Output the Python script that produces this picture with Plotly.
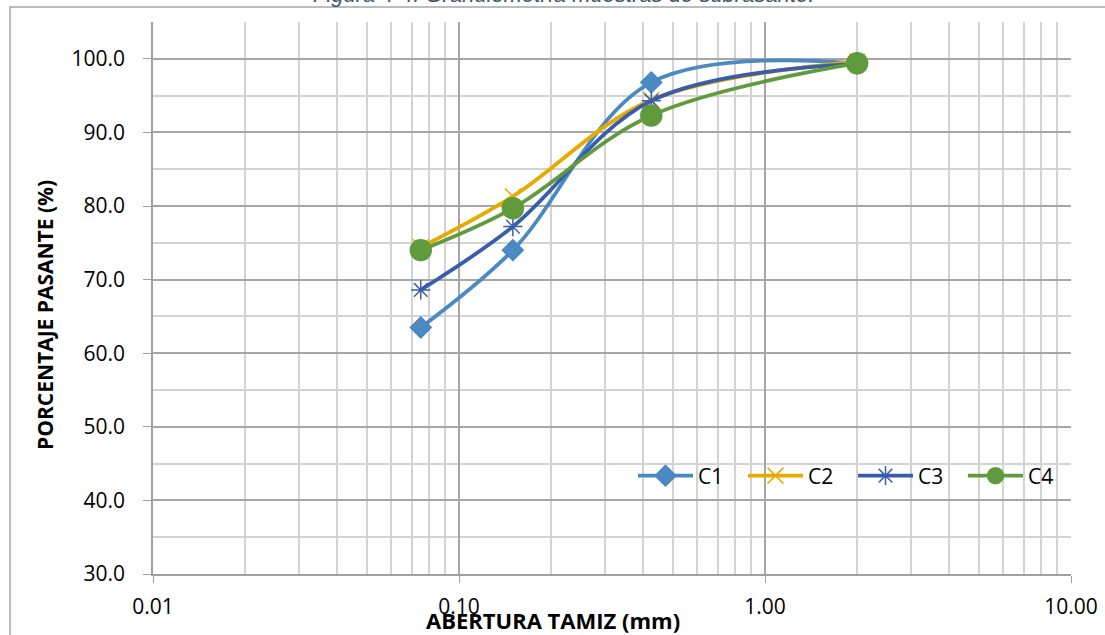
import plotly.graph_objects as go

# --- data ---
aberturas = [0.075, 0.15, 0.425, 2.0]
c1 = [63.5, 74.0, 96.8, 99.4]
c2 = [74.4, 81.3, 94.4, 99.6]
c3 = [68.6, 77.2, 94.3, 99.3]
c4 = [74.0, 79.7, 92.3, 99.4]
series_names = ["C1", "C2", "C3", "C4"]
x_tickvals = [0.01, 0.1, 1, 10]
x_ticktext = ["0.01", "0.10", "1.00", "10.00"]
y_tickvals = [30, 40, 50, 60, 70, 80, 90, 100]
y_ticktext = ["30.0", "40.0", "50.0", "60.0", "70.0", "80.0", "90.0", "100.0"]

colors = ["#4A89C2", "#E8AA00", "#3A5DAA", "#5F9B3C"]
symbols = ["diamond", "x-thin-open", "asterisk-open", "circle"]
sizes = [16, 16, 16, 21]

W, H = 1105, 635
ML, MR, MT, MB = 153, 34, 22, 61
PW, PH = W - ML - MR, H - MT - MB


def px_x(p):
    return (p - ML) / PW


def px_y(p):
    return (H - MB - p) / PH


fig = go.Figure()
for name, vals, col, sym, sz in zip(series_names, [c1, c2, c3, c4], colors, symbols, sizes):
    fig.add_trace(go.Scatter(
        x=aberturas, y=vals, name=name, mode="lines+markers",
        line=dict(color=col, width=3.8, shape="spline", smoothing=1),
        marker=dict(symbol=sym, size=sz, color=col, line=dict(color=col, width=1.5)),
    ))

minor_x = []
for d in [0.01, 0.1, 1]:
    for k in range(2, 10):
        minor_x.append(round(d * k, 4))

tickfont = dict(size=21, family="Open Sans, Arial", color="#000000")

fig.update_layout(
    width=W, height=H,
    margin=dict(l=ML, r=MR, t=MT, b=MB, autoexpand=False),
    paper_bgcolor="white", plot_bgcolor="white",
    font=dict(family="Open Sans, Liberation Sans, Arial", color="#000000"),
    showlegend=True,
    legend=dict(orientation="h", x=px_x(633), y=px_y(476), xanchor="left", yanchor="middle",
                font=dict(size=21, family="Open Sans, Arial", color="#000000"),
                bgcolor="rgba(0,0,0,0)", itemwidth=55, tracegroupgap=0,
                entrywidth=40, entrywidthmode="pixels"),
    xaxis=dict(
        type="log", range=[-2, 1], automargin=False,
        tickmode="array", tickvals=x_tickvals, ticktext=x_ticktext,
        showgrid=True, gridcolor="#A6A6A6", gridwidth=1.5,
        minor=dict(tickvals=minor_x, showgrid=True, gridcolor="#D3D3D3", gridwidth=1.5,
                   ticks=""),
        showline=True, linecolor="#A0A0A0", linewidth=1.5, mirror=False,
        ticks="outside", ticklen=7, tickcolor="#A0A0A0",
        tickfont=tickfont, ticklabelstandoff=6,
        zeroline=False,
    ),
    yaxis=dict(
        range=[30, 105], automargin=False,
        tickmode="array", tickvals=y_tickvals, ticktext=y_ticktext,
        showgrid=True, gridcolor="#A6A6A6", gridwidth=1.5,
        minor=dict(dtick=5, tick0=30, showgrid=True, gridcolor="#D3D3D3", gridwidth=1.5,
                   ticks=""),
        showline=True, linecolor="#A0A0A0", linewidth=1.5,
        ticks="outside", ticklen=8, tickcolor="#A0A0A0",
        tickfont=tickfont, ticklabelstandoff=14,
        zeroline=False,
    ),
)

# axis titles
fig.add_annotation(text="<b>ABERTURA TAMIZ (mm)</b>", xref="paper", yref="paper",
                   x=px_x(553), y=px_y(620), xanchor="center", yanchor="middle",
                   showarrow=False,
                   font=dict(size=22, family="Open Sans, Arial", color="#000000"))
fig.add_annotation(text="<b>PORCENTAJE PASANTE (%)</b>", xref="paper", yref="paper",
                   x=px_x(45), y=px_y(315), xanchor="center", yanchor="middle",
                   showarrow=False, textangle=-90,
                   font=dict(size=21, family="Open Sans, Arial", color="#000000"))

# outer chart border (partially visible)
fig.add_shape(type="rect", xref="paper", yref="paper",
              x0=px_x(10), x1=px_x(1115),
              y0=px_y(645), y1=px_y(7),
              line=dict(color="#A6A6A6", width=1.5), fillcolor="rgba(0,0,0,0)", layer="below")

# title cut off at top
fig.add_annotation(text="<i>Figura 4-4: Granulometría muestras de subrasante.</i>",
                   xref="paper", yref="paper", x=px_x(563), y=px_y(9),
                   xanchor="center", yanchor="bottom", showarrow=False,
                   font=dict(size=22, family="Liberation Sans, Arial", color="#44546A"))

fig.write_html("out.html")
